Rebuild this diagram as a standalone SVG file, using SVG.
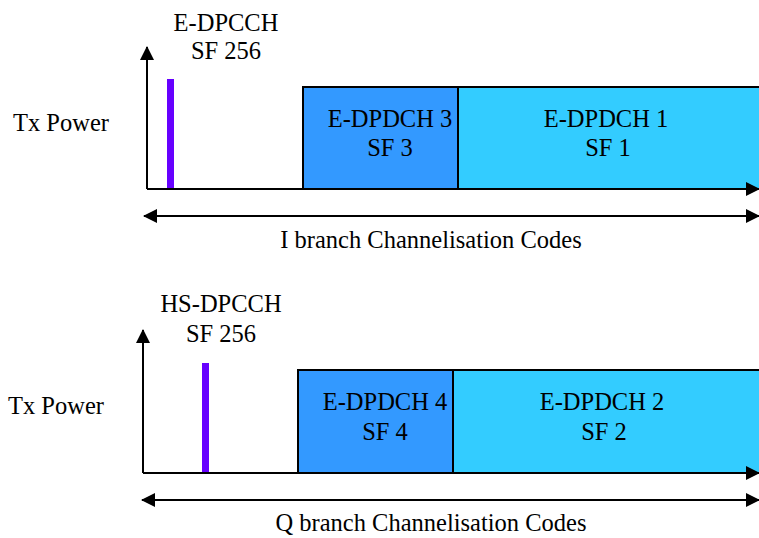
<svg xmlns="http://www.w3.org/2000/svg" width="759" height="538" viewBox="0 0 759 538">
<style>
.t{font-size:24.5px;fill:#000}
.c{text-anchor:middle}
.dark{fill:#3399FF;stroke:#000;stroke-width:2}
.light{fill:#33CCFF;stroke:#000;stroke-width:2}
.bar{fill:#6600FF}
.ax{stroke:#000;stroke-width:2;fill:none}
</style>
<defs>
<marker id="ah" markerUnits="userSpaceOnUse" markerWidth="14" markerHeight="14" refX="13" refY="7" orient="auto-start-reverse">
<path d="M0,0 L14,7 L0,14 z" fill="#000"/>
</marker>
</defs>
<g font-family="Liberation Serif, Times New Roman, DejaVu Serif, serif">
<g id="i-branch">
<g id="edpcch">
<rect class="bar" x="167" y="79" width="7" height="110"/>
<text class="t c" x="226" y="31">E-DPCCH</text>
<text class="t c" x="226" y="59">SF 256</text>
</g>
<g id="edpdch3">
<rect class="dark" x="303" y="87" width="155" height="102"/>
<text class="t c" x="390" y="127">E-DPDCH 3</text>
<text class="t c" x="390" y="156">SF 3</text>
</g>
<g id="edpdch1">
<rect class="light" x="458" y="87" width="320" height="102"/>
<text class="t c" x="606" y="127">E-DPDCH 1</text>
<text class="t c" x="608" y="156">SF 1</text>
</g>
<g id="tx-power-i"><text class="t" x="13" y="131">Tx Power</text></g>
<g id="i-codes"><text class="t c" x="431" y="248">I branch Channelisation Codes</text></g>
</g>
<g id="q-branch">
<g id="hsdpcch">
<rect class="bar" x="202" y="363" width="7" height="110"/>
<text class="t c" x="221" y="312">HS-DPCCH</text>
<text class="t c" x="221" y="342">SF 256</text>
</g>
<g id="edpdch4">
<rect class="dark" x="298" y="370" width="155" height="103"/>
<text class="t c" x="385" y="410">E-DPDCH 4</text>
<text class="t c" x="385" y="440">SF 4</text>
</g>
<g id="edpdch2">
<rect class="light" x="453" y="370" width="320" height="103"/>
<text class="t c" x="602" y="410">E-DPDCH 2</text>
<text class="t c" x="604" y="440">SF 2</text>
</g>
<g id="tx-power-q"><text class="t" x="8" y="414">Tx Power</text></g>
<g id="q-codes"><text class="t c" x="431" y="531">Q branch Channelisation Codes</text></g>
</g>
</g>
<g id="connectors">
<path class="ax" d="M147,189 V47" marker-end="url(#ah)"/>
<path class="ax" d="M147,189 H759" marker-end="url(#ah)"/>
<path class="ax" d="M144,216 H759" marker-start="url(#ah)" marker-end="url(#ah)"/>
<path class="ax" d="M143,473 V330" marker-end="url(#ah)"/>
<path class="ax" d="M143,473 H759" marker-end="url(#ah)"/>
<path class="ax" d="M142,500 H759" marker-start="url(#ah)" marker-end="url(#ah)"/>
</g>
</svg>
